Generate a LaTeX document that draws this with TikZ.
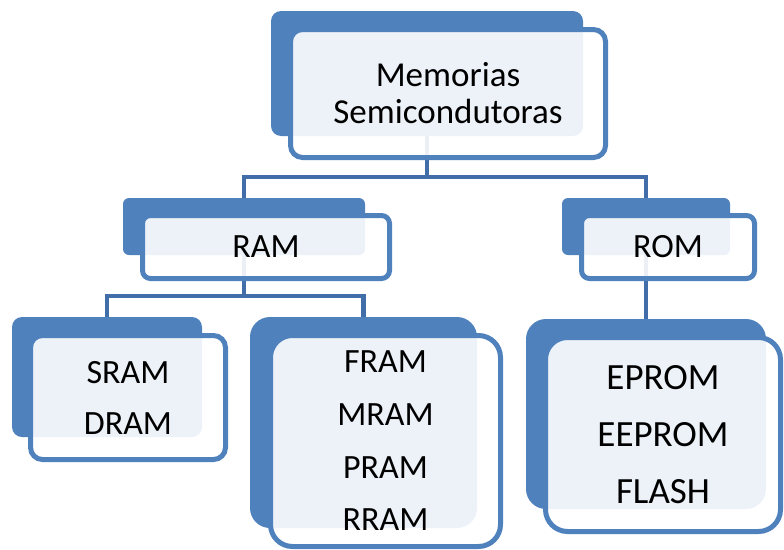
\documentclass[tikz,border=0pt]{standalone}
\usepackage{fontspec}
\setmainfont{Carlito}
\definecolor{boxblue}{RGB}{79,129,189}
\definecolor{lineblue}{RGB}{65,110,168}
\begin{document}
\begin{tikzpicture}[x=1pt,y=-1pt,
  back/.style={fill=boxblue,draw=none,inner sep=0pt,outer sep=0pt},
  front/.style={draw=boxblue,line width=5pt,fill=white,fill opacity=0.9,draw opacity=1,text opacity=1,
     inner sep=0pt,outer sep=0pt,align=center,text=black},
  conn/.style={draw=lineblue,line width=4.5pt}]
\useasboundingbox (0,0) rectangle (784,549);
% back shapes
\node[back,rounded corners=10pt,minimum width=312pt,minimum height=125pt] (rootB) at (427,73.5) {};
\node[back,rounded corners=6pt,minimum width=242pt,minimum height=57pt] (ramB) at (244,226.5) {};
\node[back,rounded corners=6pt,minimum width=168pt,minimum height=57pt] (romB) at (646,226.5) {};
\node[back,rounded corners=10pt,minimum width=190pt,minimum height=120pt] (sramB) at (107,377) {};
\node[back,rounded corners=20pt,minimum width=227pt,minimum height=211pt] (framB) at (363.5,422.5) {};
\node[back,rounded corners=20pt,minimum width=240pt,minimum height=190pt] (epromB) at (646,414) {};
% connectors
\coordinate (bar1) at (427,177);
\coordinate (bar2) at (244,296);
\draw[conn] (rootB.south) -- (rootB.south |- bar1) -| (ramB.north);
\draw[conn] (rootB.south |- bar1) -| (romB.north);
\draw[conn] (ramB.south) -- (ramB.south |- bar2) -| (sramB.north);
\draw[conn] (ramB.south |- bar2) -| (framB.north);
\draw[conn] (romB.south) -- (epromB.north);
% front shapes
\node[front,rounded corners=12pt,minimum width=315pt,minimum height=128pt,font=\fontsize{35}{37}\selectfont] (rootF) at (448,93.5) {Memorias\\Semicondutoras};
\node[front,rounded corners=8pt,minimum width=247pt,minimum height=63pt,font=\fontsize{34}{37}\selectfont] (ramF) at (266,247) {RAM};
\node[front,rounded corners=8pt,minimum width=173pt,minimum height=63pt,font=\fontsize{34}{37}\selectfont] (romF) at (668,247) {ROM};
\node[front,rounded corners=12pt,minimum width=195pt,minimum height=124pt,font=\fontsize{34}{51}\selectfont] (sramF) at (128,397.5) {SRAM\\DRAM};
\node[front,rounded corners=22pt,minimum width=230pt,minimum height=211pt,font=\fontsize{34}{52.7}\selectfont] (framF) at (385.5,441) {FRAM\\MRAM\\PRAM\\RRAM};
\node[front,rounded corners=22pt,minimum width=235pt,minimum height=194pt,font=\fontsize{37}{57}\selectfont] (epromF) at (663,434.5) {EPROM\\EEPROM\\FLASH};
\end{tikzpicture}
\end{document}
